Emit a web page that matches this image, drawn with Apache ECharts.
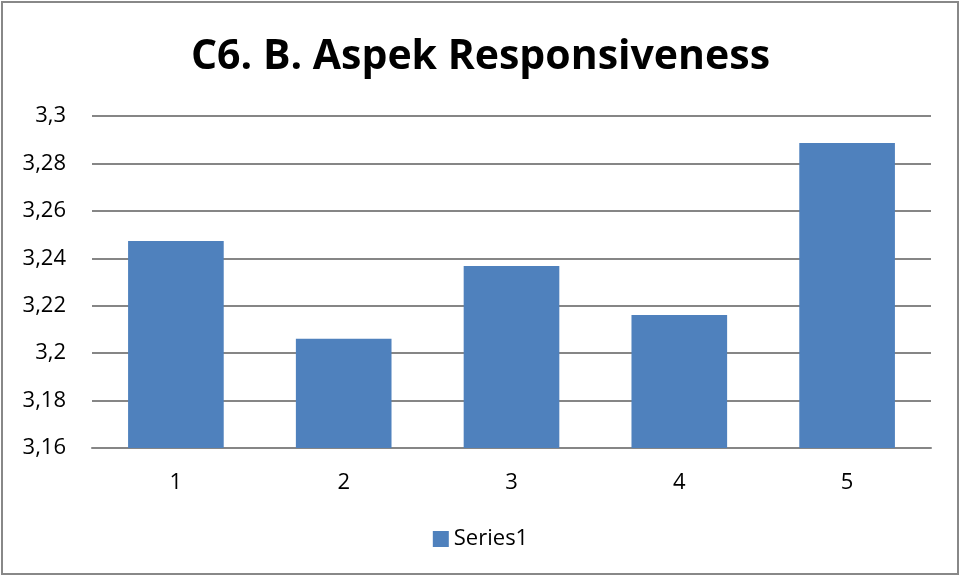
<!DOCTYPE html>
<html>
<head>
<meta charset="utf-8">
<script src="https://cdn.jsdelivr.net/npm/echarts@6/dist/echarts.min.js"></script>
<style>
  html, body { margin: 0; padding: 0; background: #fff; }
  #chart { width: 961px; height: 577px; }
</style>
</head>
<body>
<div id="chart"></div>
<script>
// data
var categories = ['1', '2', '3', '4', '5'];
var series1 = [3.2473, 3.2061, 3.2367, 3.2161, 3.2886];
var yMin = 3.16, yMax = 3.3, yStep = 0.02;

var myChart = echarts.init(document.getElementById('chart'));

var option = {
  animation: false,
  title: {
    text: 'C6. B. Aspek Responsiveness',
    left: 'center',
    top: 32,
    textStyle: {
      fontFamily: 'Open Sans',
      fontWeight: 'bold',
      fontSize: 41,
      color: '#000'
    }
  },
  graphic: [{
    type: 'rect',
    shape: { x: 2, y: 2, width: 956, height: 572 },
    style: { fill: 'none', stroke: '#888', lineWidth: 2 },
    silent: true
  }],
  legend: {
    bottom: 22,
    left: 'center',
    itemWidth: 16,
    itemHeight: 16,
    itemGap: 6,
    icon: 'rect',
    textStyle: { fontFamily: 'Open Sans', fontSize: 22, color: '#000' },
    data: ['Series1']
  },
  grid: {
    left: 92,
    right: 30,
    top: 116,
    bottom: 129
  },
  xAxis: {
    type: 'category',
    data: categories,
    axisTick: { show: false },
    axisLine: { lineStyle: { color: '#868686', width: 2 } },
    axisLabel: { fontFamily: 'Open Sans', fontSize: 22, color: '#000', margin: 24 }
  },
  yAxis: {
    type: 'value',
    min: yMin,
    max: yMax,
    interval: yStep,
    axisLine: { show: false },
    axisTick: { show: false },
    splitLine: { lineStyle: { color: '#868686', width: 2 } },
    axisLabel: {
      fontFamily: 'Open Sans',
      fontSize: 22,
      color: '#000',
      margin: 26,
      formatter: function (v) {
        return String(+v.toFixed(2)).replace('.', ',');
      }
    }
  },
  series: [{
    name: 'Series1',
    type: 'bar',
    data: series1,
    barWidth: '57%',
    itemStyle: { color: '#4f81bd' }
  }]
};

myChart.setOption(option);
</script>
</body>
</html>
